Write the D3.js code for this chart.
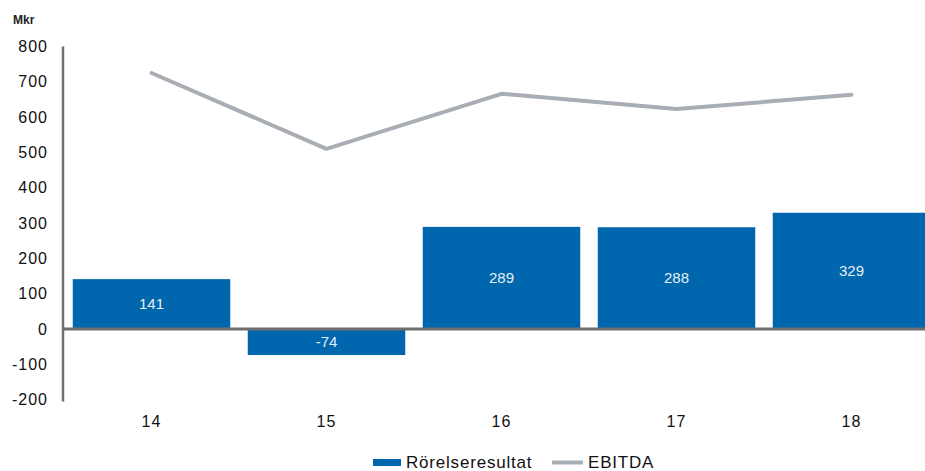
<!DOCTYPE html>
<html>
<head>
<meta charset="utf-8">
<script src="https://cdn.jsdelivr.net/npm/d3@7"></script>
<style>
  body { margin: 0; background: #fff; }
  svg { display: block; font-family: 'Liberation Sans', Arial, sans-serif; }
</style>
</head>
<body>
<div id="chart"></div>
<script>
const years = ['14', '15', '16', '17', '18']
const rorelseresultat = [141, -74, 289, 288, 329]
const ebitda = [725, 510, 666, 623, 663]
const yTicks = [800, 700, 600, 500, 400, 300, 200, 100, 0, -100, -200]

const WIDTH = 925
const HEIGHT = 471
const BLUE = '#0066ad'
const GRAY = '#a8aeb4'
const AXIS = '#6f6f6f'

const svg = d3.select('#chart')
  .append('svg')
  .attr('width', WIDTH)
  .attr('height', HEIGHT)

const x = d3.scaleBand()
  .domain(years)
  .range([64, 939])
  .paddingInner(0.1)
  .paddingOuter(0.05)

const y = d3.scaleLinear()
  .domain([-200, 800])
  .range([399.5, 46.5])

// unit label
svg.append('text')
  .attr('x', 13)
  .attr('y', 24)
  .attr('font-size', '12px')
  .attr('font-weight', 'bold')
  .attr('fill', '#222')
  .text('Mkr')

// y axis
const yAxis = svg.append('g')
  .attr('transform', 'translate(63, 0)')
  .call(d3.axisLeft(y).tickValues(yTicks).tickSize(0).tickPadding(15).tickFormat(d => String(d)))
yAxis.select('.domain')
  .attr('d', `M0,${y(800)}V${y(-200) + 2}`)
  .attr('stroke', AXIS)
  .attr('stroke-width', 2.5)
yAxis.selectAll('text')
  .attr('font-size', '16px')
  .attr('letter-spacing', '1px')
  .attr('fill', '#111')
  .attr('font-family', 'Liberation Sans, Arial, sans-serif')

// bars
const data = years.map((yr, i) => ({ year: yr, value: rorelseresultat[i], ebitda: ebitda[i] }))

svg.selectAll('rect.bar')
  .data(data)
  .enter()
  .append('rect')
  .attr('class', 'bar')
  .attr('x', d => x(d.year))
  .attr('y', d => y(Math.max(0, d.value)))
  .attr('width', x.bandwidth())
  .attr('height', d => Math.abs(y(d.value) - y(0)))
  .attr('fill', BLUE)

svg.selectAll('text.bar-label')
  .data(data)
  .enter()
  .append('text')
  .attr('class', 'bar-label')
  .attr('x', d => x(d.year) + x.bandwidth() / 2)
  .attr('y', d => (y(d.value) + y(0)) / 2)
  .attr('dy', '0.35em')
  .attr('text-anchor', 'middle')
  .attr('font-size', '15px')
  .attr('fill', '#e6eef6')
  .text(d => d.value)

// zero line
svg.append('line')
  .attr('x1', 62)
  .attr('x2', WIDTH)
  .attr('y1', y(0))
  .attr('y2', y(0))
  .attr('stroke', AXIS)
  .attr('stroke-width', 3)

// x axis labels
const xAxis = svg.append('g')
  .attr('transform', `translate(0, ${y(-200)})`)
  .call(d3.axisBottom(x).tickSize(0).tickPadding(16))
xAxis.select('.domain').remove()
xAxis.selectAll('text')
  .attr('font-size', '16px')
  .attr('letter-spacing', '1px')
  .attr('fill', '#111')
  .attr('font-family', 'Liberation Sans, Arial, sans-serif')

// EBITDA line
const line = d3.line()
  .x(d => x(d.year) + x.bandwidth() / 2)
  .y(d => y(d.ebitda))

svg.append('path')
  .datum(data)
  .attr('d', line)
  .attr('fill', 'none')
  .attr('stroke', GRAY)
  .attr('stroke-width', 4)
  .attr('stroke-linecap', 'round')
  .attr('stroke-linejoin', 'round')

// legend
const legend = svg.append('g')
  .attr('font-size', '17px')
  .attr('letter-spacing', '0.8px')
  .attr('fill', '#111')
legend.append('rect')
  .attr('x', 373).attr('y', 459)
  .attr('width', 28).attr('height', 7)
  .attr('fill', BLUE)
legend.append('text')
  .attr('x', 406).attr('y', 468)
  .text('Rörelseresultat')
legend.append('line')
  .attr('x1', 552).attr('x2', 583)
  .attr('y1', 462.5).attr('y2', 462.5)
  .attr('stroke', GRAY)
  .attr('stroke-width', 4)
legend.append('text')
  .attr('x', 588).attr('y', 468)
  .text('EBITDA')
</script>
</body>
</html>
